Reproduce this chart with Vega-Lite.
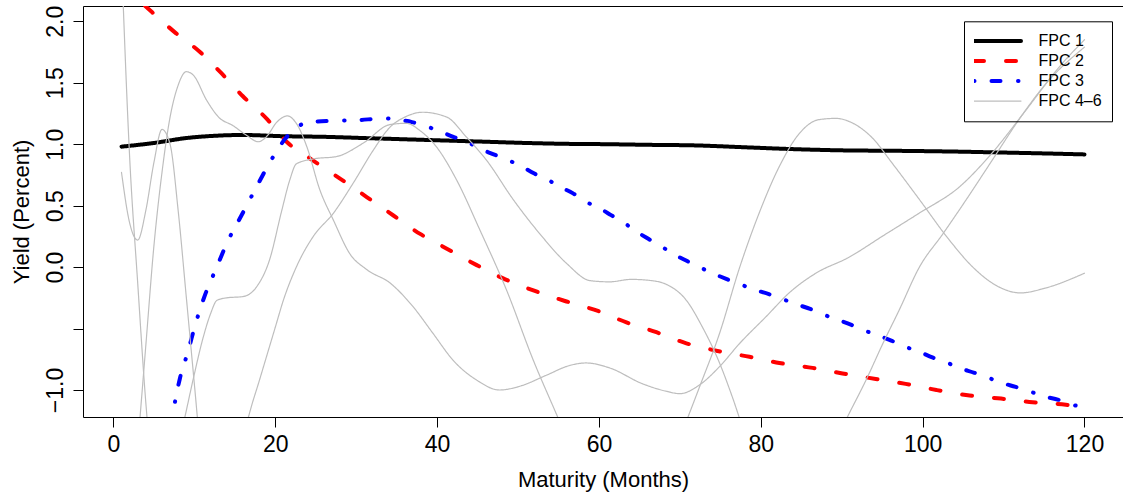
{
  "$schema": "https://vega.github.io/schema/vega-lite/v6.json",
  "width": 1040,
  "height": 411,
  "autosize": {"type": "none"},
  "padding": {"left": 83, "top": 6, "right": 0, "bottom": 79},
  "background": "white",
  "config": {"view": {"stroke": "black", "strokeWidth": 1}, "font": "Liberation Sans"},
  "datasets": {
    "fpc": [
      {"s":"FPC 1","c":"a","m":1,"v":0.98},{"s":"FPC 1","c":"a","m":5,"v":1.01},{"s":"FPC 1","c":"a","m":9,"v":1.05},{"s":"FPC 1","c":"a","m":13,"v":1.07},{"s":"FPC 1","c":"a","m":16,"v":1.075},{"s":"FPC 1","c":"a","m":21,"v":1.065},{"s":"FPC 1","c":"a","m":26,"v":1.06},{"s":"FPC 1","c":"a","m":31,"v":1.05},{"s":"FPC 1","c":"a","m":36,"v":1.04},{"s":"FPC 1","c":"a","m":41,"v":1.03},{"s":"FPC 1","c":"a","m":46,"v":1.02},{"s":"FPC 1","c":"a","m":51,"v":1.01},{"s":"FPC 1","c":"a","m":56,"v":1.003},{"s":"FPC 1","c":"a","m":61,"v":1.0},{"s":"FPC 1","c":"a","m":66,"v":0.995},{"s":"FPC 1","c":"a","m":72,"v":0.99},{"s":"FPC 1","c":"a","m":78,"v":0.975},{"s":"FPC 1","c":"a","m":84,"v":0.96},{"s":"FPC 1","c":"a","m":90,"v":0.95},{"s":"FPC 1","c":"a","m":97,"v":0.946},{"s":"FPC 1","c":"a","m":104,"v":0.94},{"s":"FPC 1","c":"a","m":110,"v":0.932},{"s":"FPC 1","c":"a","m":115,"v":0.925},{"s":"FPC 1","c":"a","m":120,"v":0.917},

      {"s":"FPC 2","c":"b","m":1,"v":2.30},{"s":"FPC 2","c":"b","m":4,"v":2.12},{"s":"FPC 2","c":"b","m":7.6,"v":1.91},{"s":"FPC 2","c":"b","m":10.7,"v":1.75},{"s":"FPC 2","c":"b","m":13.6,"v":1.56},{"s":"FPC 2","c":"b","m":16,"v":1.39},{"s":"FPC 2","c":"b","m":18.9,"v":1.21},{"s":"FPC 2","c":"b","m":21.4,"v":1.02},{"s":"FPC 2","c":"b","m":24.5,"v":0.875},{"s":"FPC 2","c":"b","m":28,"v":0.72},{"s":"FPC 2","c":"b","m":31.3,"v":0.57},{"s":"FPC 2","c":"b","m":34.6,"v":0.42},{"s":"FPC 2","c":"b","m":37.9,"v":0.27},{"s":"FPC 2","c":"b","m":41.2,"v":0.15},{"s":"FPC 2","c":"b","m":44.9,"v":0.016},{"s":"FPC 2","c":"b","m":48.1,"v":-0.09},{"s":"FPC 2","c":"b","m":51.9,"v":-0.19},{"s":"FPC 2","c":"b","m":56,"v":-0.28},{"s":"FPC 2","c":"b","m":60,"v":-0.36},{"s":"FPC 2","c":"b","m":63.4,"v":-0.45},{"s":"FPC 2","c":"b","m":67.1,"v":-0.53},{"s":"FPC 2","c":"b","m":70.8,"v":-0.62},{"s":"FPC 2","c":"b","m":74.5,"v":-0.68},{"s":"FPC 2","c":"b","m":78.6,"v":-0.73},{"s":"FPC 2","c":"b","m":82.3,"v":-0.78},{"s":"FPC 2","c":"b","m":86.4,"v":-0.82},{"s":"FPC 2","c":"b","m":90.1,"v":-0.865},{"s":"FPC 2","c":"b","m":94.2,"v":-0.91},{"s":"FPC 2","c":"b","m":97.9,"v":-0.95},{"s":"FPC 2","c":"b","m":101.7,"v":-1.0},{"s":"FPC 2","c":"b","m":105.8,"v":-1.045},{"s":"FPC 2","c":"b","m":109.7,"v":-1.07},{"s":"FPC 2","c":"b","m":113.6,"v":-1.10},{"s":"FPC 2","c":"b","m":117.7,"v":-1.12},{"s":"FPC 2","c":"b","m":120,"v":-1.14},

      {"s":"FPC 3","c":"c","m":1,"v":-3.2},{"s":"FPC 3","c":"c","m":3,"v":-2.6},{"s":"FPC 3","c":"c","m":5,"v":-2.05},{"s":"FPC 3","c":"c","m":6,"v":-1.75},{"s":"FPC 3","c":"c","m":7,"v":-1.38},{"s":"FPC 3","c":"c","m":7.5,"v":-1.14},{"s":"FPC 3","c":"c","m":8.2,"v":-0.91},{"s":"FPC 3","c":"c","m":9.2,"v":-0.69},{"s":"FPC 3","c":"c","m":10.2,"v":-0.45},{"s":"FPC 3","c":"c","m":11.3,"v":-0.23},{"s":"FPC 3","c":"c","m":12.7,"v":-0.01},{"s":"FPC 3","c":"c","m":14.2,"v":0.22},{"s":"FPC 3","c":"c","m":15.9,"v":0.43},{"s":"FPC 3","c":"c","m":17.5,"v":0.63},{"s":"FPC 3","c":"c","m":19.4,"v":0.86},{"s":"FPC 3","c":"c","m":21.3,"v":1.05},{"s":"FPC 3","c":"c","m":22.6,"v":1.135},{"s":"FPC 3","c":"c","m":24.3,"v":1.18},{"s":"FPC 3","c":"c","m":27,"v":1.19},{"s":"FPC 3","c":"c","m":30,"v":1.195},{"s":"FPC 3","c":"c","m":33.5,"v":1.21},{"s":"FPC 3","c":"c","m":35,"v":1.2},{"s":"FPC 3","c":"c","m":36.9,"v":1.18},{"s":"FPC 3","c":"c","m":38.7,"v":1.145},{"s":"FPC 3","c":"c","m":40.3,"v":1.105},{"s":"FPC 3","c":"c","m":42,"v":1.06},{"s":"FPC 3","c":"c","m":43.8,"v":1.016},{"s":"FPC 3","c":"c","m":45.2,"v":0.965},{"s":"FPC 3","c":"c","m":46.9,"v":0.92},{"s":"FPC 3","c":"c","m":48.6,"v":0.875},{"s":"FPC 3","c":"c","m":50.3,"v":0.825},{"s":"FPC 3","c":"c","m":51.9,"v":0.765},{"s":"FPC 3","c":"c","m":53.7,"v":0.71},{"s":"FPC 3","c":"c","m":55,"v":0.66},{"s":"FPC 3","c":"c","m":56.8,"v":0.6},{"s":"FPC 3","c":"c","m":58.45,"v":0.53},{"s":"FPC 3","c":"c","m":59.9,"v":0.485},{"s":"FPC 3","c":"c","m":61.5,"v":0.423},{"s":"FPC 3","c":"c","m":63.2,"v":0.356},{"s":"FPC 3","c":"c","m":64.5,"v":0.295},{"s":"FPC 3","c":"c","m":66.1,"v":0.23},{"s":"FPC 3","c":"c","m":67.8,"v":0.165},{"s":"FPC 3","c":"c","m":69.1,"v":0.111},{"s":"FPC 3","c":"c","m":70.9,"v":0.049},{"s":"FPC 3","c":"c","m":72.6,"v":-0.006},{"s":"FPC 3","c":"c","m":74.1,"v":-0.051},{"s":"FPC 3","c":"c","m":75.8,"v":-0.098},{"s":"FPC 3","c":"c","m":77.7,"v":-0.146},{"s":"FPC 3","c":"c","m":79.1,"v":-0.181},{"s":"FPC 3","c":"c","m":81,"v":-0.22},{"s":"FPC 3","c":"c","m":82.8,"v":-0.263},{"s":"FPC 3","c":"c","m":84.3,"v":-0.3},{"s":"FPC 3","c":"c","m":86.1,"v":-0.34},{"s":"FPC 3","c":"c","m":87.9,"v":-0.39},{"s":"FPC 3","c":"c","m":89.4,"v":-0.425},{"s":"FPC 3","c":"c","m":91.2,"v":-0.47},{"s":"FPC 3","c":"c","m":93,"v":-0.52},{"s":"FPC 3","c":"c","m":94.4,"v":-0.553},{"s":"FPC 3","c":"c","m":96.2,"v":-0.6},{"s":"FPC 3","c":"c","m":97.95,"v":-0.65},{"s":"FPC 3","c":"c","m":99.6,"v":-0.69},{"s":"FPC 3","c":"c","m":101.2,"v":-0.735},{"s":"FPC 3","c":"c","m":103.1,"v":-0.78},{"s":"FPC 3","c":"c","m":104.5,"v":-0.82},{"s":"FPC 3","c":"c","m":106.4,"v":-0.86},{"s":"FPC 3","c":"c","m":108.1,"v":-0.9},{"s":"FPC 3","c":"c","m":109.7,"v":-0.94},{"s":"FPC 3","c":"c","m":111.5,"v":-0.975},{"s":"FPC 3","c":"c","m":113.4,"v":-1.015},{"s":"FPC 3","c":"c","m":114.9,"v":-1.05},{"s":"FPC 3","c":"c","m":116.8,"v":-1.08},{"s":"FPC 3","c":"c","m":118.5,"v":-1.12},{"s":"FPC 3","c":"c","m":120,"v":-1.14},

      {"s":"FPC 4–6","c":"d","m":1,"v":0.77},{"s":"FPC 4–6","c":"d","m":2,"v":0.36},{"s":"FPC 4–6","c":"d","m":3,"v":0.22},{"s":"FPC 4–6","c":"d","m":4,"v":0.46},{"s":"FPC 4–6","c":"d","m":5,"v":0.85},{"s":"FPC 4–6","c":"d","m":6,"v":1.12},{"s":"FPC 4–6","c":"d","m":7,"v":1.0},{"s":"FPC 4–6","c":"d","m":8,"v":0.46},{"s":"FPC 4–6","c":"d","m":9,"v":-0.24},{"s":"FPC 4–6","c":"d","m":10,"v":-0.95},{"s":"FPC 4–6","c":"d","m":11,"v":-1.65},{"s":"FPC 4–6","c":"d","m":12,"v":-2.1},{"s":"FPC 4–6","c":"d","m":13.5,"v":-2.3},{"s":"FPC 4–6","c":"d","m":15,"v":-1.75},{"s":"FPC 4–6","c":"d","m":16,"v":-1.4},{"s":"FPC 4–6","c":"d","m":17,"v":-1.145},{"s":"FPC 4–6","c":"d","m":18,"v":-0.93},{"s":"FPC 4–6","c":"d","m":19,"v":-0.71},{"s":"FPC 4–6","c":"d","m":20,"v":-0.49},{"s":"FPC 4–6","c":"d","m":21,"v":-0.27},{"s":"FPC 4–6","c":"d","m":22.6,"v":0.0},{"s":"FPC 4–6","c":"d","m":24.7,"v":0.25},{"s":"FPC 4–6","c":"d","m":27.2,"v":0.44},{"s":"FPC 4–6","c":"d","m":29.6,"v":0.68},{"s":"FPC 4–6","c":"d","m":32.1,"v":0.95},{"s":"FPC 4–6","c":"d","m":34.2,"v":1.14},{"s":"FPC 4–6","c":"d","m":36,"v":1.22},{"s":"FPC 4–6","c":"d","m":38.2,"v":1.26},{"s":"FPC 4–6","c":"d","m":41.2,"v":1.22},{"s":"FPC 4–6","c":"d","m":43.6,"v":1.06},{"s":"FPC 4–6","c":"d","m":46.1,"v":0.87},{"s":"FPC 4–6","c":"d","m":49.4,"v":0.55},{"s":"FPC 4–6","c":"d","m":52.7,"v":0.27},{"s":"FPC 4–6","c":"d","m":56,"v":0.03},{"s":"FPC 4–6","c":"d","m":58.9,"v":-0.11},{"s":"FPC 4–6","c":"d","m":61.3,"v":-0.12},{"s":"FPC 4–6","c":"d","m":64,"v":-0.1},{"s":"FPC 4–6","c":"d","m":66.5,"v":-0.11},{"s":"FPC 4–6","c":"d","m":68.3,"v":-0.14},{"s":"FPC 4–6","c":"d","m":70.8,"v":-0.27},{"s":"FPC 4–6","c":"d","m":72.8,"v":-0.49},{"s":"FPC 4–6","c":"d","m":74.9,"v":-0.78},{"s":"FPC 4–6","c":"d","m":76.5,"v":-1.06},{"s":"FPC 4–6","c":"d","m":78,"v":-1.35},{"s":"FPC 4–6","c":"d","m":81,"v":-1.8},{"s":"FPC 4–6","c":"d","m":84,"v":-2.0},{"s":"FPC 4–6","c":"d","m":87,"v":-1.8},{"s":"FPC 4–6","c":"d","m":89,"v":-1.45},{"s":"FPC 4–6","c":"d","m":90.7,"v":-1.22},{"s":"FPC 4–6","c":"d","m":93,"v":-0.92},{"s":"FPC 4–6","c":"d","m":95.1,"v":-0.62},{"s":"FPC 4–6","c":"d","m":97.1,"v":-0.35},{"s":"FPC 4–6","c":"d","m":99.6,"v":0.0},{"s":"FPC 4–6","c":"d","m":102.5,"v":0.27},{"s":"FPC 4–6","c":"d","m":105.4,"v":0.55},{"s":"FPC 4–6","c":"d","m":108.6,"v":0.87},{"s":"FPC 4–6","c":"d","m":111.9,"v":1.2},{"s":"FPC 4–6","c":"d","m":115.2,"v":1.49},{"s":"FPC 4–6","c":"d","m":120,"v":1.79},

      {"s":"FPC 4–6","c":"e","m":1,"v":-3.0},{"s":"FPC 4–6","c":"e","m":2,"v":-2.3},{"s":"FPC 4–6","c":"e","m":3,"v":-1.46},{"s":"FPC 4–6","c":"e","m":4,"v":-0.64},{"s":"FPC 4–6","c":"e","m":5,"v":0.17},{"s":"FPC 4–6","c":"e","m":6,"v":0.77},{"s":"FPC 4–6","c":"e","m":7,"v":1.22},{"s":"FPC 4–6","c":"e","m":8,"v":1.48},{"s":"FPC 4–6","c":"e","m":9,"v":1.59},{"s":"FPC 4–6","c":"e","m":9.9,"v":1.56},{"s":"FPC 4–6","c":"e","m":11.5,"v":1.36},{"s":"FPC 4–6","c":"e","m":13,"v":1.22},{"s":"FPC 4–6","c":"e","m":14.8,"v":1.15},{"s":"FPC 4–6","c":"e","m":16.5,"v":1.07},{"s":"FPC 4–6","c":"e","m":17.9,"v":1.02},{"s":"FPC 4–6","c":"e","m":18.9,"v":1.06},{"s":"FPC 4–6","c":"e","m":20.2,"v":1.18},{"s":"FPC 4–6","c":"e","m":21.5,"v":1.23},{"s":"FPC 4–6","c":"e","m":22.6,"v":1.17},{"s":"FPC 4–6","c":"e","m":23.9,"v":0.98},{"s":"FPC 4–6","c":"e","m":25.5,"v":0.63},{"s":"FPC 4–6","c":"e","m":27.2,"v":0.38},{"s":"FPC 4–6","c":"e","m":29.2,"v":0.11},{"s":"FPC 4–6","c":"e","m":31.3,"v":-0.02},{"s":"FPC 4–6","c":"e","m":34.2,"v":-0.13},{"s":"FPC 4–6","c":"e","m":37,"v":-0.32},{"s":"FPC 4–6","c":"e","m":39.5,"v":-0.54},{"s":"FPC 4–6","c":"e","m":42,"v":-0.76},{"s":"FPC 4–6","c":"e","m":44.9,"v":-0.92},{"s":"FPC 4–6","c":"e","m":47.7,"v":-1.0},{"s":"FPC 4–6","c":"e","m":50.2,"v":-0.97},{"s":"FPC 4–6","c":"e","m":53.5,"v":-0.88},{"s":"FPC 4–6","c":"e","m":56.4,"v":-0.8},{"s":"FPC 4–6","c":"e","m":58.4,"v":-0.78},{"s":"FPC 4–6","c":"e","m":61.3,"v":-0.82},{"s":"FPC 4–6","c":"e","m":65.4,"v":-0.95},{"s":"FPC 4–6","c":"e","m":68.3,"v":-1.01},{"s":"FPC 4–6","c":"e","m":70,"v":-1.03},{"s":"FPC 4–6","c":"e","m":72.4,"v":-0.96},{"s":"FPC 4–6","c":"e","m":74.9,"v":-0.81},{"s":"FPC 4–6","c":"e","m":77.4,"v":-0.62},{"s":"FPC 4–6","c":"e","m":80.7,"v":-0.4},{"s":"FPC 4–6","c":"e","m":83.5,"v":-0.21},{"s":"FPC 4–6","c":"e","m":86.8,"v":-0.05},{"s":"FPC 4–6","c":"e","m":90.9,"v":0.08},{"s":"FPC 4–6","c":"e","m":95,"v":0.25},{"s":"FPC 4–6","c":"e","m":99.6,"v":0.44},{"s":"FPC 4–6","c":"e","m":104.5,"v":0.65},{"s":"FPC 4–6","c":"e","m":108.6,"v":0.93},{"s":"FPC 4–6","c":"e","m":112.8,"v":1.28},{"s":"FPC 4–6","c":"e","m":116.9,"v":1.63},{"s":"FPC 4–6","c":"e","m":120,"v":1.85},

      {"s":"FPC 4–6","c":"f","m":1,"v":2.5},{"s":"FPC 4–6","c":"f","m":2,"v":0.9},{"s":"FPC 4–6","c":"f","m":3,"v":-0.13},{"s":"FPC 4–6","c":"f","m":4,"v":-1.1},{"s":"FPC 4–6","c":"f","m":5,"v":-1.8},{"s":"FPC 4–6","c":"f","m":6,"v":-2.1},{"s":"FPC 4–6","c":"f","m":7,"v":-2.0},{"s":"FPC 4–6","c":"f","m":8,"v":-1.48},{"s":"FPC 4–6","c":"f","m":9,"v":-1.17},{"s":"FPC 4–6","c":"f","m":10,"v":-0.87},{"s":"FPC 4–6","c":"f","m":11.1,"v":-0.57},{"s":"FPC 4–6","c":"f","m":12,"v":-0.38},{"s":"FPC 4–6","c":"f","m":12.8,"v":-0.27},{"s":"FPC 4–6","c":"f","m":14,"v":-0.25},{"s":"FPC 4–6","c":"f","m":16,"v":-0.24},{"s":"FPC 4–6","c":"f","m":17.7,"v":-0.16},{"s":"FPC 4–6","c":"f","m":19.3,"v":0.06},{"s":"FPC 4–6","c":"f","m":20.8,"v":0.46},{"s":"FPC 4–6","c":"f","m":21.8,"v":0.71},{"s":"FPC 4–6","c":"f","m":22.6,"v":0.84},{"s":"FPC 4–6","c":"f","m":24.7,"v":0.88},{"s":"FPC 4–6","c":"f","m":27.6,"v":0.9},{"s":"FPC 4–6","c":"f","m":30.9,"v":1.01},{"s":"FPC 4–6","c":"f","m":34.2,"v":1.16},{"s":"FPC 4–6","c":"f","m":36.2,"v":1.17},{"s":"FPC 4–6","c":"f","m":37.9,"v":1.11},{"s":"FPC 4–6","c":"f","m":39.9,"v":0.98},{"s":"FPC 4–6","c":"f","m":42.4,"v":0.71},{"s":"FPC 4–6","c":"f","m":45.3,"v":0.3},{"s":"FPC 4–6","c":"f","m":48.6,"v":-0.19},{"s":"FPC 4–6","c":"f","m":51.9,"v":-0.76},{"s":"FPC 4–6","c":"f","m":54.9,"v":-1.22},{"s":"FPC 4–6","c":"f","m":58,"v":-1.7},{"s":"FPC 4–6","c":"f","m":62,"v":-2.1},{"s":"FPC 4–6","c":"f","m":66,"v":-2.0},{"s":"FPC 4–6","c":"f","m":69,"v":-1.55},{"s":"FPC 4–6","c":"f","m":71,"v":-1.22},{"s":"FPC 4–6","c":"f","m":72.4,"v":-0.98},{"s":"FPC 4–6","c":"f","m":74.9,"v":-0.54},{"s":"FPC 4–6","c":"f","m":77.4,"v":0.0},{"s":"FPC 4–6","c":"f","m":79.8,"v":0.44},{"s":"FPC 4–6","c":"f","m":82.3,"v":0.82},{"s":"FPC 4–6","c":"f","m":84.8,"v":1.09},{"s":"FPC 4–6","c":"f","m":87.2,"v":1.2},{"s":"FPC 4–6","c":"f","m":89.3,"v":1.21},{"s":"FPC 4–6","c":"f","m":91.4,"v":1.17},{"s":"FPC 4–6","c":"f","m":93.8,"v":1.05},{"s":"FPC 4–6","c":"f","m":96.3,"v":0.84},{"s":"FPC 4–6","c":"f","m":99.6,"v":0.55},{"s":"FPC 4–6","c":"f","m":103.3,"v":0.22},{"s":"FPC 4–6","c":"f","m":106.2,"v":0.0},{"s":"FPC 4–6","c":"f","m":109.1,"v":-0.15},{"s":"FPC 4–6","c":"f","m":112.1,"v":-0.21},{"s":"FPC 4–6","c":"f","m":115.2,"v":-0.17},{"s":"FPC 4–6","c":"f","m":120,"v":-0.05}
    ]
  },
  "data": {"name": "fpc"},
  "mark": {"type": "line", "clip": true, "interpolate": "monotone", "strokeCap": "round", "strokeJoin": "round"},
  "encoding": {
    "x": {
      "field": "m", "type": "quantitative",
      "scale": {"domain": [-3.76, 124.76], "nice": false, "zero": false},
      "axis": {
        "values": [0, 20, 40, 60, 80, 100, 120],
        "domain": false, "grid": false,
        "tickSize": 10, "tickColor": "black", "tickWidth": 1,
        "labelFont": "Liberation Sans", "labelFontSize": 23, "labelColor": "black", "labelPadding": 6,
        "labelFlush": false, "labelOverlap": false,
        "title": "Maturity (Months)", "titleFont": "Liberation Sans", "titleFontSize": 22, "titleFontWeight": "normal", "titleColor": "black",
        "titleX": 520, "titleY": 69, "titleBaseline": "alphabetic", "titleAlign": "center"
      }
    },
    "y": {
      "field": "v", "type": "quantitative",
      "scale": {"domain": [-1.2197, 2.1245], "nice": false, "zero": false},
      "axis": {
        "values": [-1, -0.5, 0, 0.5, 1, 1.5, 2],
        "labelExpr": "datum.value == -0.5 ? '' : format(datum.value, '.1f')",
        "domain": false, "grid": false,
        "tickSize": 10, "tickColor": "black", "tickWidth": 1,
        "labelFont": "Liberation Sans", "labelFontSize": 23, "labelColor": "black", "labelPadding": 6,
        "labelAngle": 270, "labelAlign": "center", "labelBaseline": "bottom",
        "labelFlush": false, "labelOverlap": false,
        "title": "Yield (Percent)", "titleFont": "Liberation Sans", "titleFontSize": 22, "titleFontWeight": "normal", "titleColor": "black",
        "titleX": -55, "titleY": 205.5, "titleAngle": 270, "titleBaseline": "alphabetic", "titleAlign": "center"
      }
    },
    "color": {
      "field": "s", "type": "nominal",
      "scale": {"domain": ["FPC 1", "FPC 2", "FPC 3", "FPC 4–6"], "range": ["#000000", "#ff0000", "#0000ff", "#bebebe"]},
      "legend": {
        "title": null, "orient": "none", "legendX": 881, "legendY": 15.3,
        "strokeColor": "black", "padding": 10,
        "symbolType": "stroke", "symbolSize": 2209, "symbolOffset": 15.5,
        "labelFont": "Liberation Sans", "labelFontSize": 16, "labelColor": "black", "labelOffset": 33, "labelLimit": 300,
        "clipHeight": 19.5, "rowPadding": 0,
        "encode": {"symbols": {"update": {"strokeCap": {"value": "round"}, "strokeWidth": {"signal": "datum.value === 'FPC 4–6' ? 1.2 : 4"}}}}
      }
    },
    "strokeDash": {
      "field": "s", "type": "nominal",
      "scale": {"domain": ["FPC 1", "FPC 2", "FPC 3", "FPC 4–6"], "range": [[1, 0], [10, 22], [0.5, 17, 9, 17.5], [1, 0]]}
    },
    "strokeWidth": {"condition": {"test": "datum.s === 'FPC 4–6'", "value": 1.2}, "value": 4},
    "detail": {"field": "c", "type": "nominal"}
  }
}
